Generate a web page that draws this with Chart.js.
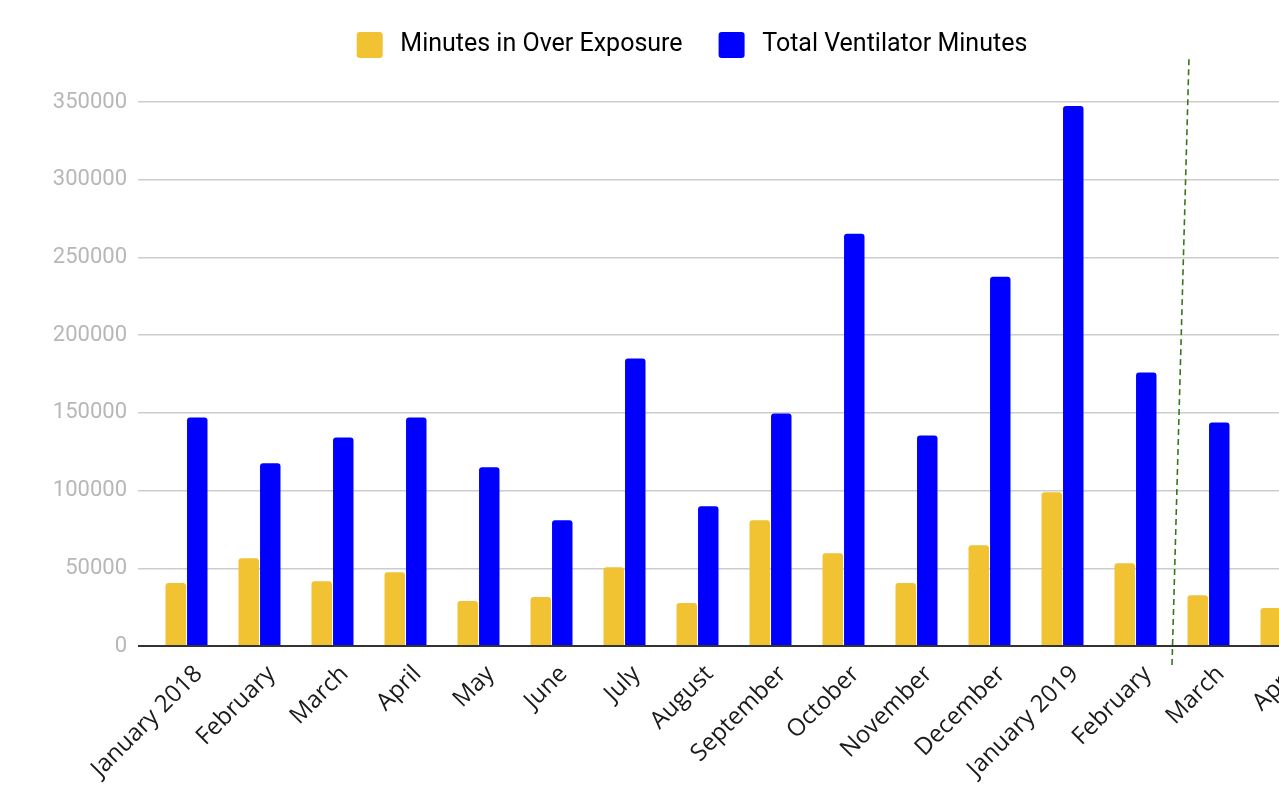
<!DOCTYPE html>
<html>
<head>
<meta charset="utf-8">
<script src="https://cdn.jsdelivr.net/npm/chart.js@4.4.1/dist/chart.umd.min.js"></script>
<style>
  html, body { margin: 0; padding: 0; background: #fff; overflow: hidden; }
  #wrap { position: relative; width: 1384px; height: 860px; }
</style>
</head>
<body>
<div id="wrap"><canvas id="c"></canvas></div>
<script>
// Monthly ventilator usage, January 2018 – April 2019
const months = ["January 2018", "February", "March", "April", "May", "June", "July", "August",
  "September", "October", "November", "December", "January 2019", "February", "March", "April"];
const overExposure = [40500, 56500, 41700, 47500, 28900, 31500, 50700, 27600,
  80900, 59700, 40500, 64900, 98900, 53300, 32700, 24400];
const totalVentilator = [147000, 117500, 134200, 147000, 115000, 80900, 185000, 89900,
  149600, 265200, 135500, 237600, 347400, 176000, 143800, null];
const seriesNames = ["Minutes in Over Exposure", "Total Ventilator Minutes"];
const yMax = 350000;
const yStep = 50000;

// Legend: extra space below it, and centred across the whole canvas
const legendPlacement = {
  id: 'legendPlacement',
  beforeInit(chart) {
    const fit = chart.legend.fit;
    chart.legend.fit = function () {
      fit.call(this);
      this.height += 34;
    };
  },
  afterLayout(chart) {
    const lg = chart.legend;
    const shift = (chart.width - (lg.left + lg.right)) / 2;
    lg.left += shift;
    lg.right += shift;
  }
};

// Dashed marker between February and March 2019
const cutoverLine = {
  id: 'cutoverLine',
  afterDatasetsDraw(chart) {
    const xs = chart.scales.x, ys = chart.scales.y;
    const xm = (xs.getPixelForValue(13) + xs.getPixelForValue(14)) / 2;
    const yb = ys.getPixelForValue(0);
    const ctx = chart.ctx;
    ctx.save();
    ctx.strokeStyle = '#38761d';
    ctx.lineWidth = 1.6;
    ctx.setLineDash([6, 4]);
    ctx.beginPath();
    ctx.moveTo(xm, yb + 19);
    ctx.lineTo(xm + 17, chart.chartArea.top - 44);
    ctx.stroke();
    ctx.restore();
  }
};

new Chart(document.getElementById('c'), {
  type: 'bar',
  data: {
    labels: months,
    datasets: [
      { label: seriesNames[0], data: overExposure, backgroundColor: '#f1c232',
        borderRadius: 3, categoryPercentage: 0.59, barPercentage: 0.95 },
      { label: seriesNames[1], data: totalVentilator, backgroundColor: '#0000ff',
        borderRadius: 3, categoryPercentage: 0.59, barPercentage: 0.95 }
    ]
  },
  options: {
    responsive: true,
    maintainAspectRatio: false,
    animation: false,
    layout: { padding: { left: 0, right: 66, top: -4, bottom: 0 } },
    plugins: {
      tooltip: { enabled: false },
      legend: {
        position: 'top',
        align: 'center',
        labels: {
          boxWidth: 26,
          boxHeight: 26,
          useBorderRadius: true,
          borderRadius: 3,
          padding: 36,
          color: '#666666',
          font: { family: 'Roboto', size: 25 },
          generateLabels(chart) {
            return chart.data.datasets.map((ds, i) => ({
              text: '\u2009' + ds.label,
              fillStyle: ds.backgroundColor,
              strokeStyle: ds.backgroundColor,
              lineWidth: 0,
              borderRadius: 3,
              hidden: false,
              datasetIndex: i
            }));
          }
        }
      }
    },
    scales: {
      x: {
        grid: { display: false, drawTicks: false },
        border: { display: false },
        ticks: {
          color: '#1a1a1a',
          font: { family: 'Open Sans', size: 24 },
          minRotation: 45,
          maxRotation: 45,
          autoSkip: false,
          padding: 14,
          labelOffset: 12
        },
        afterFit(scale) { scale.height = 860 - 646; }
      },
      y: {
        min: 0,
        max: yMax,
        border: { display: false },
        grid: {
          color: c => c.tick.value === 0 ? '#333333' : '#cccccc',
          lineWidth: c => c.tick.value === 0 ? 2 : 1.5,
          drawTicks: true,
          tickLength: 12
        },
        ticks: {
          stepSize: yStep,
          padding: 11,
          color: '#b7b7b7',
          font: { family: 'Roboto', size: 22 },
          callback: v => String(v)
        },
        afterFit(scale) { scale.width = 150; }
      }
    }
  },
  plugins: [legendPlacement, cutoverLine]
});
</script>
</body>
</html>
